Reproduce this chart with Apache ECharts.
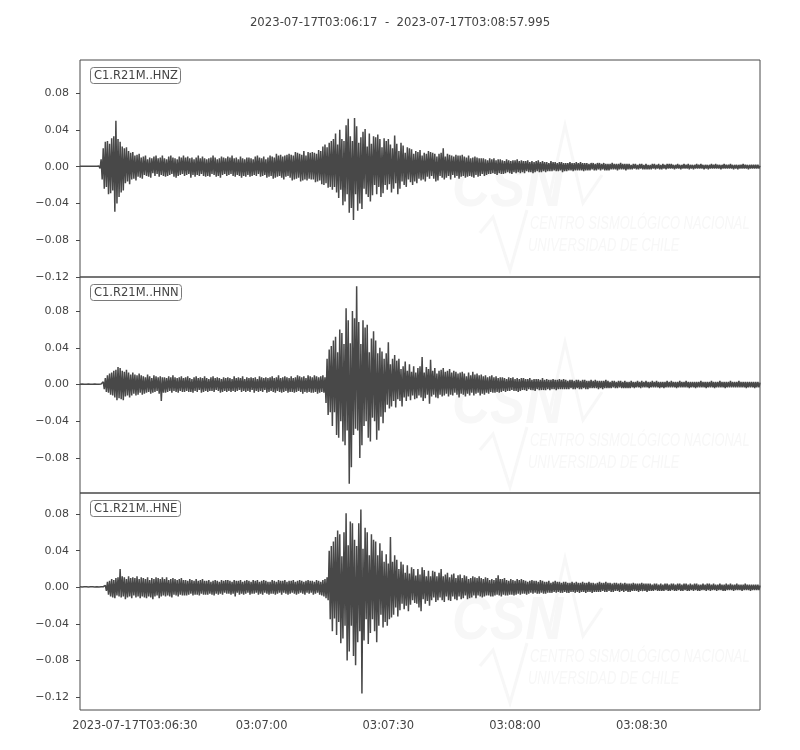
<!DOCTYPE html>
<html>
<head>
<meta charset="utf-8">
<script src="https://cdn.jsdelivr.net/npm/echarts@6/dist/echarts.min.js"></script>
<style>html,body{margin:0;padding:0;background:#fff}#chart{width:800px;height:750px}</style>
</head>
<body>
<div id="chart"></div>
<script>
// ---- data ----
// time in seconds after 03:06:00, one sample every 0.25 s starting at 03:06:17
// trace amplitudes are given in thousandths (0.001 units of the y axis)
const titleText = '2023-07-17T03:06:17  -  2023-07-17T03:08:57.995';
const channels = ['C1.R21M..HNZ', 'C1.R21M..HNN', 'C1.R21M..HNE'];
const startSec = 17;
const endSec = 177.995;
const sampleStep = 0.25;
const ampUnit = 0.001;
const xTickValues = [30, 60, 90, 120, 150];
const xTickLabels = ['2023-07-17T03:06:30', '03:07:00', '03:07:30', '03:08:00', '03:08:30'];
const yTickValues = [
  [-0.12, -0.08, -0.04, 0, 0.04, 0.08],
  [-0.08, -0.04, 0, 0.04, 0.08],
  [-0.12, -0.08, -0.04, 0, 0.04, 0.08]
];
const yRanges = [[-0.12, 0.116], [-0.118, 0.117], [-0.134, 0.103]];

const hnz = [
0.5,-0.5,0.4,-0.5,0.5,-0.4,0.5,-0.5,0.4,-0.5,0.5,-0.4,0.5,-0.5,0.4,-0.5,0.5,-0.5,0.6,-2,
8,-14,20,-24,27,-22,28,-30,25,-29,31,-26,33,-49,50,-40,30,-33,27,-28,
22,-26,20,-18,21,-16,17,-19,15,-14,16,-13,12,-15,13,-11,14,-12,10,-13,
11,-9,12,-10,8,-11,10,-12,9,-7,11,-10,12,-8,9,-11,10,-9,12,-10,
9,-11,8,-10,11,-9,12,-8,10,-11,9,-12,8,-10,11,-9,10,-8,12,-10,
10,-9,11,-8,9,-12,10,-9,8,-11,10,-9,12,-10,9,-8,11,-10,9,-11,
8,-10,9,-11,10,-8,12,-9,10,-11,8,-10,9,-12,11,-9,10,-8,9,-10,
11,-9,10,-8,12,-10,9,-11,10,-9,8,-10,11,-12,9,-10,8,-11,10,-9,
10,-11,9,-10,8,-9,11,-10,12,-8,10,-11,9,-10,11,-9,8,-12,10,-11,
12,-10,11,-13,10,-12,14,-11,12,-10,13,-12,11,-14,12,-11,13,-10,14,-12,
13,-15,12,-14,16,-13,15,-12,14,-16,13,-15,17,-14,12,-15,16,-13,15,-14,
16,-14,15,-17,14,-16,18,-15,17,-19,22,-20,24,-18,21,-23,26,-22,28,-25,
30,-22,36,-28,24,-34,40,-25,30,-42,28,-38,45,-30,52,-50,33,-45,28,-58,
53,-30,44,-48,26,-40,32,-46,38,-24,41,-30,22,-33,36,-38,25,-31,33,-20,
32,-30,35,-22,30,-33,21,-29,31,-20,28,-25,30,-19,24,-28,20,-24,34,-18,
25,-30,17,-24,26,-16,23,-20,15,-22,21,-14,20,-17,19,-20,14,-16,17,-18,
16,-13,18,-15,12,-14,15,-16,14,-11,17,-13,16,-10,15,-13,14,-16,11,-15,
14,-10,15,-12,20,-14,11,-12,14,-10,13,-14,12,-9,11,-12,13,-10,12,-13,
12,-11,13,-10,11,-12,10,-11,12,-10,9,-11,10,-12,11,-9,10,-11,9,-10,
9,-8,9,-10,8,-9,7,-8,9,-8,8,-7,9,-8,7,-9,8,-7,8,-8,
7,-8,6,-7,8,-6,7,-7,6,-8,7,-6,7,-7,8,-6,6,-7,7,-6,
6,-7,6,-5,7,-6,5,-6,6,-7,5,-6,6,-5,7,-6,5,-6,6,-5,
5,-6,5,-5,4,-5,6,-5,5,-4,5,-5,4,-5,5,-4,5,-6,4,-5,
4,-5,4,-4,5,-4,4,-5,4,-4,5,-4,4,-4,5,-4,4,-5,4,-4,
4,-4,3,-4,4,-3,4,-4,3,-4,4,-3,4,-4,3,-3,4,-4,3,-4,
3,-4,3,-3,4,-3,3,-3,3,-4,3,-3,4,-3,3,-3,3,-4,3,-3,
3,-3,2,-3,3,-2,3,-3,2,-3,3,-2,3,-3,2,-3,3,-3,2,-3,
2,-3,3,-2,3,-3,2,-2,3,-3,2,-3,3,-2,2,-3,3,-2,3,-2,
3,-2,2,-3,2,-2,3,-2,2,-3,2,-2,3,-2,2,-2,3,-3,2,-2,
2,-3,2,-2,3,-2,2,-2,3,-2,2,-3,2,-2,2,-3,2,-2,3,-2,
2,-2,3,-2,2,-2,2,-3,2,-2,3,-2,2,-2,2,-2,3,-2,2,-3,
2,-2,2,-3,2,-2,2,-2,3,-2,2,-2,2,-3,2,-2,2,-2,2,-2,
2,-2,2,-2,1
];

const hnn = [
0.4,-0.4,0.5,-0.4,0.4,-0.5,0.4,-0.4,0.5,-0.4,0.4,-0.5,0.4,-0.4,0.5,-0.4,0.4,-0.5,0.4,-0.4,
0.5,-0.6,3,-5,7,-8,10,-9,12,-11,13,-12,15,-14,16,-17,19,-15,18,-16,
15,-17,14,-13,16,-12,13,-14,11,-12,13,-10,11,-12,10,-11,12,-9,10,-11,
9,-10,8,-9,11,-8,9,-10,7,-9,10,-8,9,-7,8,-10,9,-18,8,-9,
8,-9,7,-8,9,-7,8,-9,10,-7,8,-8,7,-9,8,-7,9,-8,7,-8,
8,-7,9,-8,7,-8,6,-9,8,-7,9,-8,7,-6,8,-9,7,-8,9,-7,
7,-8,6,-7,8,-7,9,-8,7,-6,8,-7,7,-9,6,-8,8,-7,7,-8,
8,-7,7,-8,6,-7,9,-8,7,-7,8,-6,7,-8,9,-7,6,-8,8,-7,
7,-8,8,-6,7,-9,8,-7,6,-8,9,-7,8,-8,7,-6,8,-9,7,-8,
8,-7,9,-8,7,-9,8,-7,10,-8,7,-9,8,-8,9,-7,8,-9,7,-8,
9,-8,7,-9,8,-8,10,-7,9,-8,8,-10,9,-8,7,-9,10,-8,9,-9,
8,-9,10,-8,9,-10,8,-9,9,-8,10,-9,8,-20,28,-33,38,-30,42,-45,
48,-30,52,-55,35,-58,60,-40,56,-62,44,-66,83,-50,70,-108,45,-90,80,-55,
72,-48,107,-50,68,-80,44,-66,70,-45,62,-40,65,-58,35,-62,50,-36,58,-40,
48,-60,34,-50,40,-35,36,-42,28,-30,34,-22,46,-26,22,-24,28,-18,32,-25,
26,-16,28,-18,17,-24,20,-14,25,-18,15,-13,22,-17,14,-12,20,-16,13,-15,
18,-12,20,-14,30,-18,13,-15,19,-11,17,-21,27,-13,15,-11,18,-14,12,-15,
15,-11,16,-13,18,-12,14,-10,15,-13,17,-11,13,-12,15,-9,14,-11,12,-14,
13,-10,14,-11,12,-13,9,-10,13,-12,10,-9,14,-12,11,-10,12,-9,10,-12,
11,-10,9,-11,10,-9,8,-10,9,-8,10,-9,8,-9,9,-8,7,-9,8,-8,
8,-7,7,-8,6,-7,8,-7,7,-6,8,-7,6,-7,7,-8,6,-7,7,-6,
7,-6,6,-7,6,-5,7,-6,5,-6,6,-7,6,-5,6,-6,5,-6,7,-6,
5,-6,6,-5,5,-6,5,-5,6,-5,5,-6,5,-5,6,-5,5,-5,6,-5,
5,-5,4,-5,5,-4,5,-5,4,-5,5,-4,5,-5,4,-5,5,-4,5,-5,
4,-5,4,-4,5,-4,4,-4,5,-4,4,-5,4,-4,4,-5,4,-4,5,-4,
4,-4,3,-4,4,-3,4,-4,3,-4,4,-3,4,-4,3,-4,4,-4,3,-4,
3,-4,4,-3,3,-4,3,-3,4,-3,3,-4,4,-3,3,-3,4,-3,3,-4,
3,-3,4,-3,3,-3,4,-3,3,-4,3,-3,3,-4,3,-3,4,-3,3,-3,
4,-3,3,-3,3,-4,3,-3,4,-3,3,-3,3,-3,4,-3,3,-4,3,-3,
3,-3,3,-4,3,-3,3,-3,4,-3,3,-3,3,-4,3,-3,3,-3,4,-3,
3,-4,3,-3,3,-3,4,-3,3,-3,3,-4,3,-3,3,-3,4,-3,3,-3,
3,-3,3,-3,4,-3,3,-3,3,-3,3,-4,3,-3,3,-3,3,-3,3,-4,
3,-3,3,-3,2
];

const hne = [
0.5,-0.5,0.4,-0.5,0.5,-0.4,0.5,-0.5,0.4,-0.5,0.5,-0.4,0.5,-0.5,0.4,-0.5,0.5,-0.5,0.4,-0.5,
0.5,-0.5,0.6,-0.5,2,-4,6,-8,7,-10,9,-11,8,-12,10,-9,11,-10,20,-11,
12,-10,11,-13,9,-11,12,-10,10,-12,11,-9,10,-11,12,-10,9,-12,11,-10,
10,-11,9,-12,11,-10,8,-11,10,-13,9,-10,11,-9,10,-12,9,-10,11,-9,
9,-10,11,-9,8,-10,9,-11,10,-8,9,-9,8,-10,9,-8,10,-9,8,-9,
8,-9,7,-8,9,-7,8,-9,7,-8,9,-8,7,-9,8,-7,9,-8,7,-8,
7,-8,8,-7,6,-8,7,-9,8,-7,7,-8,6,-7,8,-8,7,-6,8,-7,
8,-7,7,-8,6,-7,8,-10,7,-6,7,-8,8,-7,6,-8,7,-7,8,-6,
7,-8,6,-7,8,-7,7,-6,8,-8,6,-7,7,-8,8,-6,7,-7,6,-8,
6,-7,8,-7,7,-8,6,-7,8,-6,7,-8,7,-6,8,-7,6,-8,7,-7,
7,-6,8,-7,6,-8,7,-7,8,-6,7,-7,6,-8,7,-6,8,-7,7,-6,
7,-8,6,-7,8,-6,7,-8,6,-9,8,-10,9,-12,11,-14,40,-35,45,-48,
50,-34,55,-52,62,-38,58,-61,34,-56,60,-42,81,-80,46,-70,72,-42,70,-75,
52,-85,45,-60,70,-48,85,-116,42,-58,65,-35,60,-62,35,-50,58,-35,52,-48,
50,-60,35,-42,48,-30,40,-44,28,-38,36,-42,26,-35,55,-33,28,-30,35,-22,
30,-32,20,-25,28,-18,25,-24,16,-20,24,-26,15,-19,22,-14,20,-17,13,-18,
20,-22,14,-26,22,-13,19,-18,12,-15,18,-20,12,-14,18,-11,17,-16,12,-14,
16,-11,20,-14,12,-16,14,-10,16,-14,11,-15,14,-10,15,-13,10,-14,13,-10,
14,-13,10,-12,13,-9,12,-13,9,-12,10,-11,12,-9,11,-12,10,-9,12,-10,
10,-11,9,-10,11,-9,10,-9,8,-10,9,-10,8,-9,10,-8,13,-9,9,-10,
9,-8,10,-9,8,-9,7,-8,9,-8,8,-9,7,-8,9,-7,8,-8,9,-7,
8,-7,7,-8,6,-7,7,-6,8,-7,7,-6,7,-7,6,-7,8,-6,7,-7,
6,-7,6,-6,7,-6,5,-6,6,-5,7,-6,6,-5,6,-6,5,-6,6,-5,
6,-6,5,-6,5,-5,6,-5,5,-6,6,-5,5,-6,5,-5,6,-5,5,-6,
5,-5,6,-5,5,-6,5,-5,4,-5,5,-5,6,-5,5,-4,5,-5,6,-5,
5,-4,5,-5,4,-5,5,-4,5,-4,4,-5,5,-4,4,-5,5,-4,4,-5,
4,-5,4,-4,5,-4,4,-4,4,-5,4,-4,5,-4,4,-4,4,-5,4,-4,
4,-4,3,-4,4,-3,4,-4,3,-4,4,-4,3,-4,4,-3,4,-4,3,-4,
4,-3,4,-4,3,-4,4,-3,4,-4,3,-4,4,-3,4,-4,3,-4,4,-3,
3,-4,4,-3,4,-4,3,-4,3,-3,4,-3,3,-4,4,-3,4,-4,3,-3,
4,-3,3,-4,3,-3,4,-3,3,-4,3,-4,4,-3,3,-3,4,-3,3,-4,
3,-3,4,-3,3,-3,3,-4,3,-3,4,-3,3,-3,3,-4,3,-3,3,-3,
3,-3,3,-3,2
];

const traces = [hnz, hnn, hne];

// ---- chart ----
const FONT = '"DejaVu Sans", sans-serif';
const TXT = '#444444';
const LINE = '#484848';
const panelTops = [60, 277, 493];
const panelHeights = [217, 216, 217];

function fmtY(v) {
  const s = Math.abs(v).toFixed(2);
  return v < -1e-9 ? '\u2212' + s : s;
}

const grids = [], xAxes = [], yAxes = [], series = [], titles = [], graphics = [];

titles.push({
  text: titleText, left: 'center', top: 12,
  textStyle: { fontFamily: FONT, fontSize: 11.7, fontWeight: 'normal', color: TXT }
});

traces.forEach((tr, k) => {
  const top = panelTops[k];
  grids.push({
    left: 80, right: 40, top: top, height: panelHeights[k],
    show: true, borderColor: LINE, borderWidth: 1, backgroundColor: 'transparent'
  });
  const isBottom = k === traces.length - 1;
  xAxes.push({
    type: 'value', gridIndex: k, min: startSec, max: endSec,
    axisLine: { show: false }, splitLine: { show: false },
    axisTick: { show: isBottom, length: 4, customValues: xTickValues, lineStyle: { color: LINE } },
    axisLabel: {
      show: isBottom, customValues: xTickValues, margin: 10,
      fontFamily: FONT, fontSize: 11.5, color: TXT,
      formatter: v => xTickLabels[xTickValues.indexOf(Math.round(v))] || ''
    }
  });
  yAxes.push({
    type: 'value', gridIndex: k, min: yRanges[k][0], max: yRanges[k][1],
    axisLine: { show: false }, splitLine: { show: false },
    axisTick: { show: true, length: 4, customValues: yTickValues[k], lineStyle: { color: LINE } },
    axisLabel: {
      customValues: yTickValues[k], margin: 11,
      fontFamily: FONT, fontSize: 11, color: TXT, formatter: fmtY
    }
  });
  series.push({
    type: 'line', xAxisIndex: k, yAxisIndex: k,
    data: tr.map((v, i) => [startSec + i * sampleStep, v * ampUnit]),
    showSymbol: false, symbol: 'none', sampling: null, animation: false,
    lineStyle: { width: 1.5, color: LINE }, z: 3
  });
  titles.push({
    text: channels[k], left: 90, top: top + 7,
    padding: [3, 3, 2, 4], borderColor: '#7a7a7a', borderWidth: 1, borderRadius: 3,
    backgroundColor: '#ffffff',
    textStyle: { fontFamily: FONT, fontSize: 11.5, fontWeight: 'normal', color: TXT }
  });
  // faint CSN watermark
  const wm = '#f7f7f7';
  graphics.push(
    { type: 'text', x: 452, y: top + 98, scaleX: 0.85, z: 0, silent: true,
      style: { text: 'CSN', fill: wm, font: 'italic bold 62px "Liberation Sans", sans-serif' } },
    { type: 'polyline', z: 0, silent: true,
      shape: { points: [[548, top + 143], [565, top + 65], [583, top + 143], [602, top + 115]] },
      style: { stroke: wm, lineWidth: 3, fill: null } },
    { type: 'polyline', z: 0, silent: true,
      shape: { points: [[480, top + 173], [493, top + 157], [510, top + 210], [527, top + 150]] },
      style: { stroke: wm, lineWidth: 3, fill: null } },
    { type: 'text', x: 530, y: top + 154, scaleX: 0.68, z: 0, silent: true,
      style: { text: 'CENTRO SISMOLÓGICO NACIONAL', fill: wm, font: 'italic 19px "Liberation Sans", sans-serif' } },
    { type: 'text', x: 528, y: top + 176, scaleX: 0.68, z: 0, silent: true,
      style: { text: 'UNIVERSIDAD DE CHILE', fill: wm, font: 'italic 19px "Liberation Sans", sans-serif' } }
  );
});

const chart = echarts.init(document.getElementById('chart'), null, { renderer: 'canvas' });
chart.setOption({
  backgroundColor: '#ffffff',
  animation: false,
  title: titles,
  grid: grids,
  xAxis: xAxes,
  yAxis: yAxes,
  series: series,
  graphic: graphics
});
</script>
</body>
</html>
